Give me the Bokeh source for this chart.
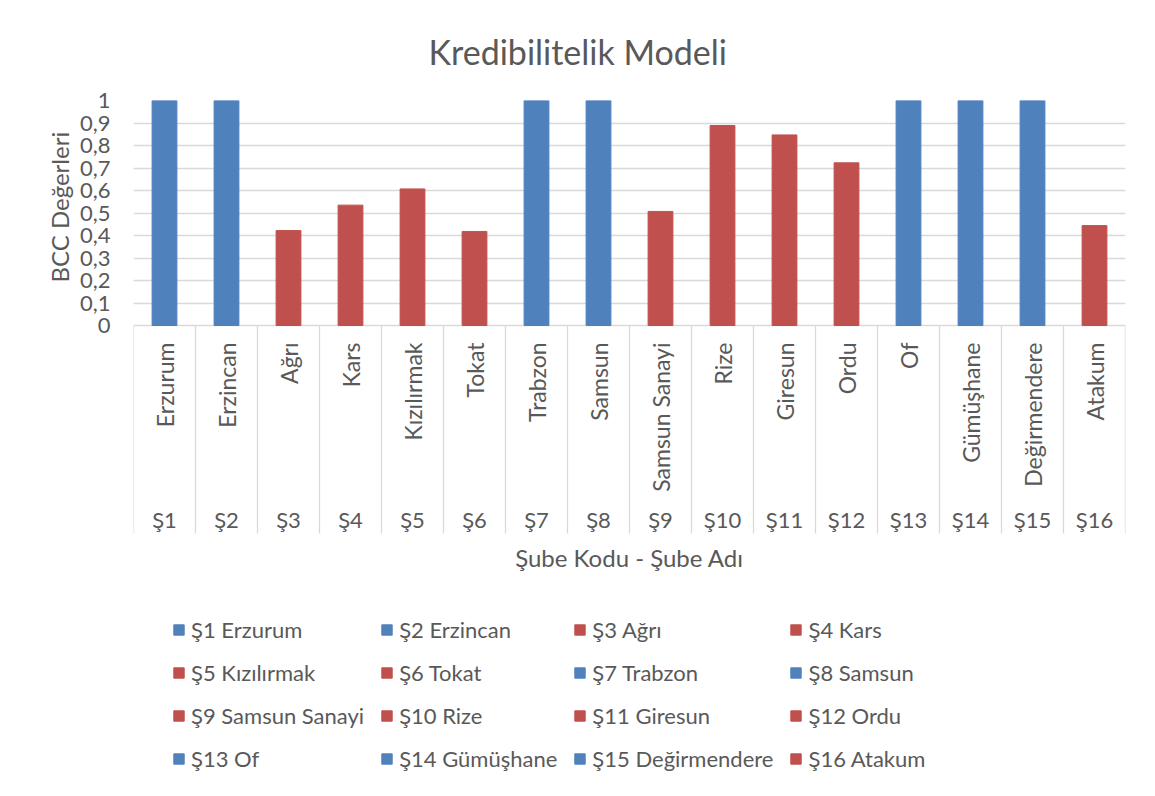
import math
from bokeh.plotting import figure
from bokeh.models import (FactorRange, Range1d, FixedTicker, Legend, LegendItem,
                          ColumnDataSource, Label, Title)
from bokeh.core.properties import value
from bokeh.embed import file_html
from bokeh.resources import INLINE

# ---- data ----
codes = ["Ş1", "Ş2", "Ş3", "Ş4", "Ş5", "Ş6", "Ş7", "Ş8",
         "Ş9", "Ş10", "Ş11", "Ş12", "Ş13", "Ş14", "Ş15", "Ş16"]
names = ["Erzurum", "Erzincan", "Ağrı", "Kars", "Kızılırmak", "Tokat", "Trabzon", "Samsun",
         "Samsun Sanayi", "Rize", "Giresun", "Ordu", "Of", "Gümüşhane", "Değirmendere", "Atakum"]
bcc = [1.0, 1.0, 0.422, 0.535, 0.607, 0.418, 1.0, 1.0,
       0.507, 0.889, 0.847, 0.723, 1.0, 1.0, 1.0, 0.444]
y_ticks = [0, 0.1, 0.2, 0.3, 0.4, 0.5, 0.6, 0.7, 0.8, 0.9, 1]
y_tick_labels = ["0", "0,1", "0,2", "0,3", "0,4", "0,5", "0,6", "0,7", "0,8", "0,9", "1"]

TITLE = "Kredibilitelik Modeli"
Y_TITLE = "BCC Değerleri"
X_TITLE = "Şube Kodu - Şube Adı"

BLUE = "#4F81BD"
RED = "#C0504D"
TXT = "#595959"
GRID = "#d9d9d9"
FONT = "Lato"

# ---- layout constants (pixels) ----
PX_PER_UNIT = 225.0            # height of the 0..1 value span
FRAME_H = 690                  # frame also holds the category labels and legend
Y_MIN = 1 - FRAME_H / PX_PER_UNIT
NAME_Y = -17 / PX_PER_UNIT     # top of rotated branch names
CODE_Y = -194 / PX_PER_UNIT    # centre of branch codes
SEP_Y = -208 / PX_PER_UNIT     # bottom of separator lines
XTITLE_Y = -232 / PX_PER_UNIT  # centre of x axis title
YTITLE_OFFSET = 508            # y title start, px above the frame bottom

colors = [BLUE if v >= 1 else RED for v in bcc]
factors = list(zip(codes, names))
labels = [f"{c} {n}" for c, n in zip(codes, names)]
# category boundaries (left edge of each category, plus right edge of the last)
boundaries = [(c, n, -0.5) for c, n in factors] + [(codes[-1], names[-1], 0.5)]

src = ColumnDataSource(dict(x=factors, top=bcc, color=colors, label=labels,
                            name=names, code=codes))
sep_src = ColumnDataSource(dict(x=boundaries))

x_range = FactorRange(*factors, group_padding=0, subgroup_padding=0, factor_padding=0, range_padding=0)

p = figure(x_range=x_range, y_range=Range1d(Y_MIN, 1),
           frame_width=992, frame_height=FRAME_H,
           output_backend="svg", toolbar_location=None,
           min_border_left=133, min_border_right=14, min_border_top=100, min_border_bottom=6)

r = p.vbar(x="x", top="top", width=0.4, color="color", source=src)

# separators between categories
p.segment(x0="x", y0=0, x1="x", y1=SEP_Y, source=sep_src, line_color=GRID, line_width=1.3)

# branch names (rotated) and codes
p.text(x="x", y=NAME_Y, text="name", source=src, angle=math.pi / 2,
       text_align="right", text_baseline="middle",
       text_font=value(FONT), text_font_size="23px", text_color=TXT)
p.text(x="x", y=CODE_Y, text="code", source=src,
       text_align="center", text_baseline="middle",
       text_font=value(FONT), text_font_size="22px", text_color=TXT)

# x axis title
p.add_layout(Label(x=len(codes) / 2, y=XTITLE_Y, text=X_TITLE,
                   text_align="center", text_baseline="middle",
                   text_font=FONT, text_font_size="24px", text_color=TXT))

p.title.text = TITLE
p.title.align = "left"
p.title.offset = 295
p.title.text_font = FONT
p.title.text_font_size = "34px"
p.title.text_font_style = "normal"
p.title.text_color = TXT
p.title.standoff = 57

p.outline_line_color = None
p.xgrid.visible = False
p.xaxis.visible = False
p.ygrid.grid_line_color = GRID
p.ygrid.grid_line_width = 1.3

# y axis (only spans 0..1)
ya = p.yaxis[0]
ya.ticker = FixedTicker(ticks=y_ticks)
ya.bounds = (0, 1)
ya.major_label_overrides = {t: s for t, s in zip(y_ticks, y_tick_labels)}
ya.axis_line_color = None
ya.major_tick_line_color = None
ya.minor_tick_line_color = None
ya.major_label_text_font = FONT
ya.major_label_text_font_size = "22px"
ya.major_label_text_color = TXT
ya.major_label_standoff = 17

# y axis title, placed alongside the 0..1 span
p.add_layout(Title(text=Y_TITLE, align="left", offset=YTITLE_OFFSET,
                   text_font=FONT, text_font_size="24px", text_font_style="normal",
                   text_color=TXT, standoff=6), "left")

legend = Legend(items=[LegendItem(label=labels[i], renderers=[r], index=i) for i in range(len(labels))],
                orientation="horizontal", ncols=4, location=(39, 18),
                label_text_font=FONT, label_text_font_size="22px", label_text_color=TXT,
                glyph_width=13, glyph_height=13, label_standoff=6, spacing=16,
                padding=0, margin=0, border_line_color=None, background_fill_alpha=0)
p.add_layout(legend, "center")

open("out.html", "w").write(file_html(p, INLINE))
